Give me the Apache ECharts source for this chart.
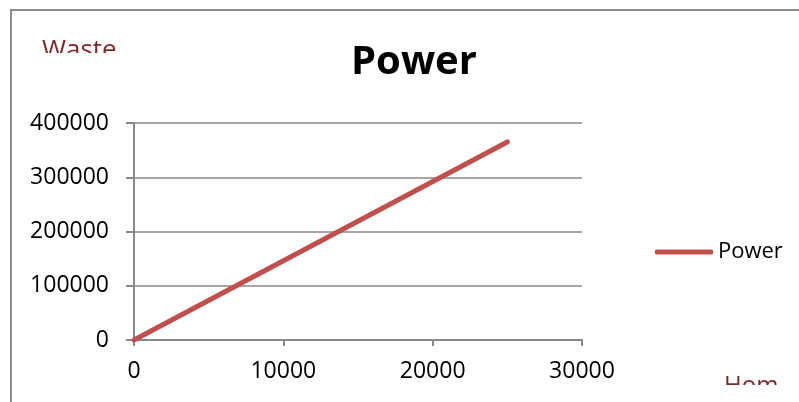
<!DOCTYPE html>
<html>
<head>
<meta charset="utf-8">
<script src="https://cdn.jsdelivr.net/npm/echarts@6/dist/echarts.min.js"></script>
<style>html,body{margin:0;padding:0;background:#fff;}#c{width:799px;height:402px;}</style>
</head>
<body>
<div id="c"></div>
<script>
var titleText = 'Power';
var seriesName = 'Power';
var homes = [0, 25000];
var waste = [0, 365000];
var xTicks = [0, 10000, 20000, 30000];
var yTicks = [0, 100000, 200000, 300000, 400000];
var yAxisName = 'Waste';
var xAxisName = 'Hom';

var FONT = '"Open Sans", "Noto Sans", sans-serif';
var data = homes.map(function (h, i) { return [h, waste[i]]; });
var plain = function (v) { return String(v); };

var chart = echarts.init(document.getElementById('c'));
chart.setOption({
  animation: false,
  backgroundColor: '#fff',
  title: {
    text: titleText, left: 346, top: 38,
    textStyle: { fontFamily: FONT, fontSize: 40, fontWeight: 'bold', color: '#000' }
  },
  legend: {
    data: [seriesName], left: 650, top: 236, itemWidth: 58, itemHeight: 5,
    icon: 'roundRect', itemGap: 4,
    itemStyle: { color: '#C0504D' },
    textStyle: { fontFamily: FONT, fontSize: 22, color: '#000' }
  },
  grid: { left: 134, right: 217, top: 123, bottom: 62 },
  xAxis: {
    type: 'value', min: xTicks[0], max: xTicks[xTicks.length - 1], interval: 10000,
    axisLine: { show: true, lineStyle: { color: '#888', width: 2 } },
    axisTick: { show: true, length: 6, lineStyle: { color: '#888', width: 2 } },
    axisLabel: { fontFamily: FONT, fontSize: 23, color: '#000', margin: 20, formatter: plain },
    splitLine: { show: false }
  },
  yAxis: {
    type: 'value', min: yTicks[0], max: yTicks[yTicks.length - 1], interval: 100000,
    axisLine: { show: true, lineStyle: { color: '#888', width: 2 } },
    axisTick: { show: true, length: 8, lineStyle: { color: '#888', width: 2 } },
    axisLabel: { fontFamily: FONT, fontSize: 23, color: '#000', margin: 25, formatter: plain },
    splitLine: { show: true, lineStyle: { color: '#888', width: 1.5 } }
  },
  series: [{
    name: seriesName, type: 'line', data: data, symbol: 'none',
    lineStyle: { color: '#C0504D', width: 5, cap: 'round' },
    itemStyle: { color: '#C0504D' }
  }],
  graphic: [
    { type: 'text', left: 42, top: 38, z: 10,
      style: { text: yAxisName, fontFamily: FONT, fontSize: 26, fill: '#7a2a2a' } },
    { type: 'rect', shape: { x: 20, y: 53, width: 130, height: 25 }, z: 11,
      style: { fill: '#fff' } },
    { type: 'text', left: 724, top: 374, z: 10,
      style: { text: xAxisName, fontFamily: FONT, fontSize: 24, fill: '#7a2a2a' } },
    { type: 'rect', shape: { x: 690, y: 385, width: 109, height: 17 }, z: 11,
      style: { fill: '#fff' } },
    { type: 'rect', shape: { x: 11, y: 10, width: 900, height: 500 }, z: 12,
      style: { fill: 'none', stroke: '#8c8c8c', lineWidth: 2 } }
  ]
});
</script>
</body>
</html>
